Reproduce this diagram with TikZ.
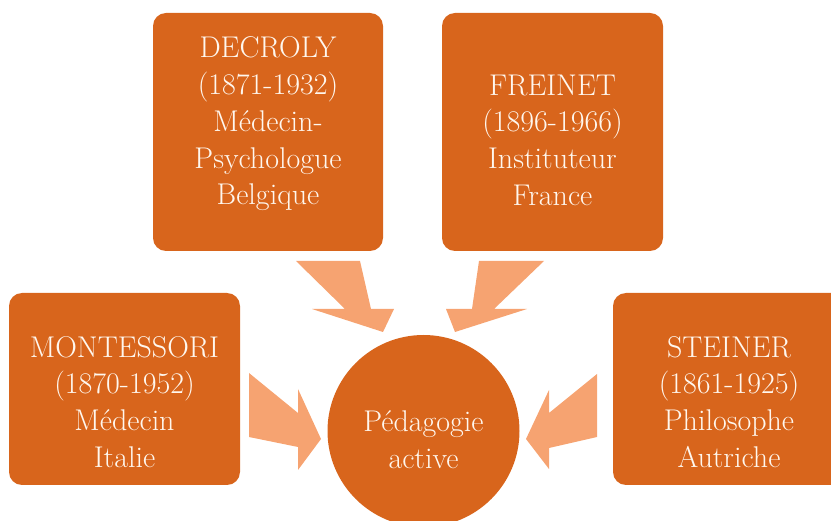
\documentclass[tikz,border=0pt]{standalone}
\usepackage{graphicx}
\definecolor{boxor}{HTML}{D8651C}
\definecolor{arrowor}{HTML}{F6A371}
\definecolor{txt}{HTML}{FFF7EE}
\newcommand{\lbl}[1]{\scalebox{1.205}{\fontsize{24.88}{30.5}\selectfont\begin{tabular}{@{}c@{}}#1\end{tabular}}}
\begin{document}
\begin{tikzpicture}[x=1pt,y=-1pt,
  box/.style={fill=boxor, draw=none, rounded corners=13pt, inner sep=0pt},
  boxtext/.style={text=txt, align=center, inner sep=0pt},
  blockarrow/.style={fill=arrowor, draw=none}]
\useasboundingbox (0,0) rectangle (831,521);
% arrows
\fill[blockarrow] (296,261) -- (360,261) -- (371,309) -- (394,309) -- (383,332) -- (312,309) -- (345,309) -- cycle;
\fill[blockarrow] (479,261) -- (544,261) -- (494,309) -- (527,309) -- (455,332) -- (446,309) -- (472,309) -- cycle;
\fill[blockarrow] (249,373) -- (298,413) -- (298,389) -- (321,439) -- (298,470) -- (298,447) -- (249,437) -- cycle;
\fill[blockarrow] (597,374) -- (549,413) -- (549,390) -- (526,439) -- (549,469) -- (549,448) -- (597,437) -- cycle;
% boxes
\node[box, minimum width=230pt, minimum height=238pt] (decroly) at (268,132) {};
\node[box, minimum width=221pt, minimum height=238pt] (freinet) at (552.5,132) {};
\node[box, minimum width=231pt, minimum height=192pt] (montessori) at (124.5,389) {};
\node[box, minimum width=232pt, minimum height=192pt] (steiner) at (729,389) {};
\node[circle, fill=boxor, minimum size=192pt, inner sep=0pt] (centre) at (423.5,431) {};
% texts
\node[boxtext] (tdecroly) at (268,124)
  {\lbl{DECROLY\\(1871-1932)\\Médecin-\\Psychologue\\Belgique}};
\node[boxtext] (tfreinet) at (552.5,143)
  {\lbl{FREINET\\(1896-1966)\\Instituteur\\France}};
\node[boxtext] (tmontessori) at (124.5,405)
  {\lbl{MONTESSORI\\(1870-1952)\\Médecin\\Italie}};
\node[boxtext] (tsteiner) at (729,405)
  {\lbl{STEINER\\(1861-1925)\\Philosophe\\Autriche}};
\node[boxtext] (tcentre) at (423.5,443) {\lbl{Pédagogie\\active}};
\end{tikzpicture}
\end{document}
